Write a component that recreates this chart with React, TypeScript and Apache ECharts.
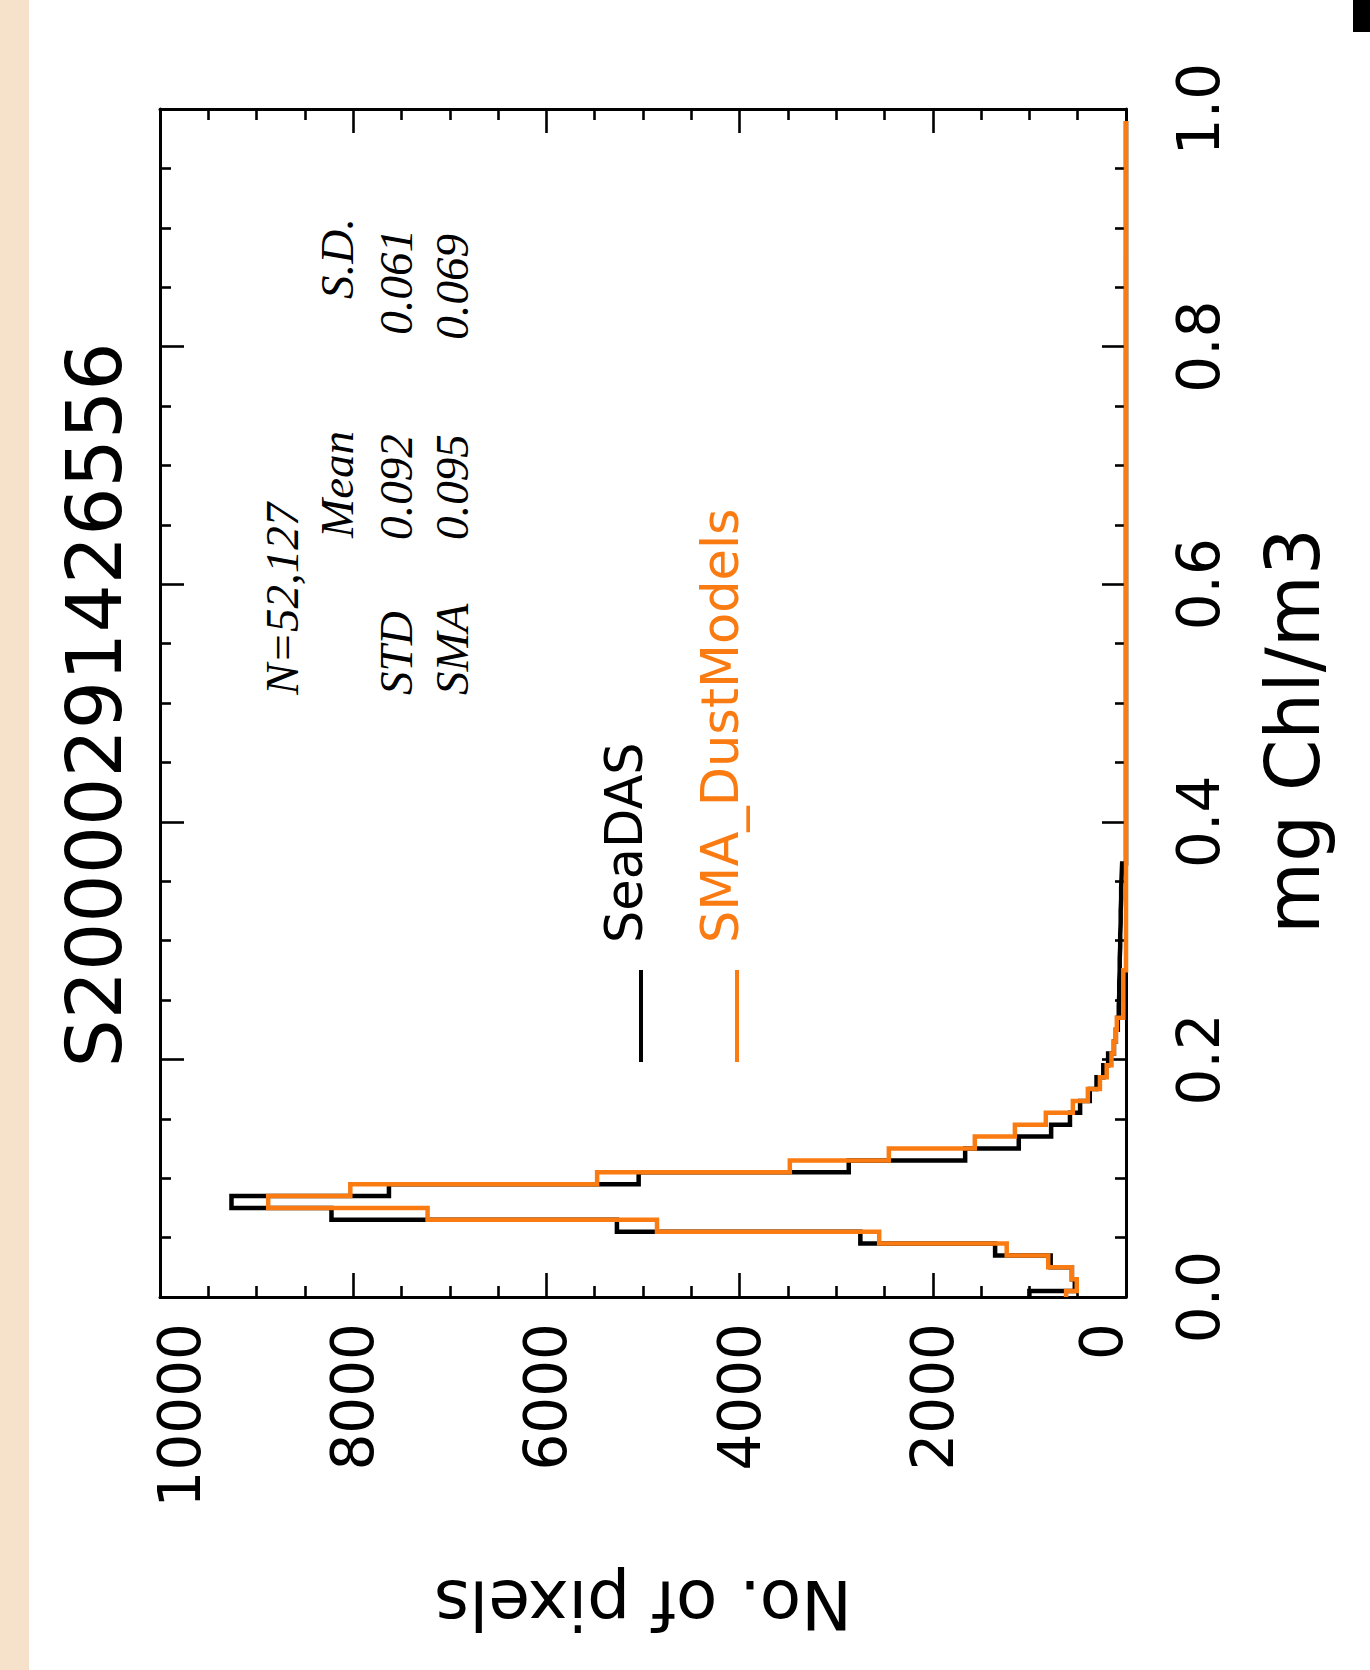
import React, { useEffect, useRef } from "react";
import * as echarts from "echarts";

// ---- data (histogram points at chl = k * BIN_WIDTH, drawn as centred steps) ----
const BIN_WIDTH = 0.01;

const seadasCounts = [
  1000, 530, 560, 780, 1355, 2750, 5270, 8225, 9260, 7630,
  5045, 2870, 1665, 1110, 775, 580, 475, 375, 305, 235,
  185, 125, 105, 85, 75, 70, 70, 65, 65, 60,
  60, 55, 55, 50, 50, 45, 40, 0, 0, 0,
  0, 0, 0, 0, 0, 0, 0, 0, 0, 0,
  0, 0, 0, 0, 0, 0, 0, 0, 0, 0,
  0, 0, 0, 0, 0, 0, 0, 0, 0, 0,
  0, 0, 0, 0, 0, 0, 0, 0, 0, 0,
  0, 0, 0, 0, 0, 0, 0, 0, 0, 0,
  0, 0, 0, 0, 0, 0, 0, 0, 0, 0,
];

const smaCounts = [
  620, 510, 560, 805, 1235, 2555, 4855, 7230, 8880, 8030,
  5475, 3480, 2455, 1565, 1150, 830, 550, 395, 270, 200,
  150, 125, 105, 95, 28, 28, 28, 28, 0, 0,
  0, 0, 0, 0, 0, 0, 0, 0, 0, 0,
  0, 0, 0, 0, 0, 0, 0, 0, 0, 0,
  0, 0, 0, 0, 0, 0, 0, 0, 0, 0,
  0, 0, 0, 0, 0, 0, 0, 0, 0, 0,
  0, 0, 0, 0, 0, 0, 0, 0, 0, 0,
  0, 0, 0, 0, 0, 0, 0, 0, 0, 0,
  0, 0, 0, 0, 0, 0, 0, 0, 0, 0,
];

const seriesNames = ["SeaDAS", "SMA_DustModels"];
const titleText = "S20000291426556";
const xAxisTitle = "No. of pixels";
const yAxisTitle = "mg Chl/m3";
const statsN = "N=52,127";
const statsHeader = ["Mean", "S.D."];
const statsRows = [
  { label: "STD", mean: "0.092", sd: "0.061" },
  { label: "SMA", mean: "0.095", sd: "0.069" },
];
const countTicks = { min: 0, max: 10000, interval: 2000 };
const chlTicks = { min: 0, max: 1, interval: 0.2 };

const ORANGE = "#fa7b12";
const SANS = "DejaVu Sans";
const SERIF = "Liberation Serif";

function outline(counts: number[]): [number, number][] {
  const pts: [number, number][] = [];
  const last = counts.length - 1;
  counts.forEach((c, k) => {
    const center = k * BIN_WIDTH;
    const lo = k === 0 ? center : center - BIN_WIDTH / 2;
    const hi = k === last ? center : center + BIN_WIDTH / 2;
    pts.push([c, lo], [c, hi]);
  });
  return pts;
}

const GRID = { left: 160, top: 109, width: 966, height: 1188 };
const midY = GRID.top + GRID.height / 2;
const midX = GRID.left + GRID.width / 2;

const axisLineStyle = { color: "#000", width: 3 };
const tickStyle = { color: "#000", width: 2.6 };

function countAxis(position: "bottom" | "top", labels: boolean) {
  return {
    type: "value",
    position,
    min: countTicks.min,
    max: countTicks.max,
    interval: countTicks.interval,
    inverse: true,
    z: 1,
    axisLine: { show: true, onZero: false, lineStyle: axisLineStyle },
    axisTick: { show: true, inside: true, length: 24, lineStyle: tickStyle },
    minorTick: { show: true, splitNumber: 4, length: 11, lineStyle: tickStyle },
    splitLine: { show: false },
    axisLabel: labels
      ? {
          show: true,
          rotate: 90,
          margin: 26,
          showMinLabel: true,
          showMaxLabel: true,
          formatter: (v: number) =>
            v === countTicks.min ? `{r|${v}}` : v === countTicks.max ? `{l|${v}}` : `{n|${v}}`,
          rich: {
            n: { fontSize: 58, fontFamily: SANS, color: "#000" },
            l: { fontSize: 58, fontFamily: SANS, color: "#000", padding: [40, 0, 0, 0] },
            r: { fontSize: 58, fontFamily: SANS, color: "#000", padding: [0, 0, 48, 0] },
          },
        }
      : { show: false },
  };
}

function chlAxis(position: "left" | "right", labels: boolean) {
  return {
    type: "value",
    position,
    min: chlTicks.min,
    max: chlTicks.max,
    interval: chlTicks.interval,
    z: 1,
    axisLine: { show: true, onZero: false, lineStyle: axisLineStyle },
    axisTick: { show: true, inside: true, length: 24, lineStyle: tickStyle },
    minorTick: { show: true, splitNumber: 4, length: 11, lineStyle: tickStyle },
    splitLine: { show: false },
    axisLabel: labels
      ? {
          show: true,
          rotate: 90,
          margin: 44,
          showMinLabel: true,
          showMaxLabel: true,
          fontSize: 58,
          fontFamily: SANS,
          color: "#000",
          formatter: (v: number) => v.toFixed(1),
        }
      : { show: false },
  };
}

function vText(text: string, x: number, y: number, align: string, fontSize: number, fill = "#000", serif = false) {
  return {
    type: "text",
    x,
    y,
    rotation: Math.PI / 2,
    z: 50,
    style: {
      text,
      fill,
      fontSize,
      fontFamily: serif ? SERIF : SANS,
      fontStyle: serif ? "italic" : "normal",
      align,
      verticalAlign: "middle",
    },
  };
}

export default function App() {
  const ref = useRef<HTMLDivElement>(null);

  useEffect(() => {
    if (!ref.current) return;
    const chart = echarts.init(ref.current, undefined, { renderer: "svg" });

    const statsCols = [396, 452];
    const sdEnds = [229, 234];
    const elements: any[] = [
      { type: "rect", z: 0, shape: { x: 0, y: 0, width: 29, height: 1670 }, style: { fill: "#f6e2ca" } },
      { type: "rect", z: 0, shape: { x: 1353, y: 0, width: 17, height: 32 }, style: { fill: "#000" } },
      vText(titleText, 94, midY + 2, "center", 76),
      vText(yAxisTitle, 1293, 731, "center", 74),
      {
        type: "text",
        x: midX,
        y: 1604,
        rotation: Math.PI,
        z: 50,
        style: { text: xAxisTitle, fill: "#000", fontSize: 68, fontFamily: SANS, align: "center", verticalAlign: "middle" },
      },
      // stats block
      vText(statsN, 282, 695, "left", 47, "#000", true),
      vText(statsHeader[0], 337, 538, "left", 47, "#000", true),
      vText(statsHeader[1], 337, 218, "right", 47, "#000", true),
      // legend
      { type: "line", z: 50, shape: { x1: 641, y1: 970, x2: 641, y2: 1062 }, style: { stroke: "#000", lineWidth: 4 } },
      vText(seriesNames[0], 624, 943, "left", 51),
      { type: "line", z: 50, shape: { x1: 737, y1: 970, x2: 737, y2: 1062 }, style: { stroke: ORANGE, lineWidth: 4 } },
      vText(seriesNames[1], 720, 943, "left", 51, ORANGE),
    ];
    statsRows.forEach((row, i) => {
      const x = statsCols[i];
      elements.push(vText(row.label, x, 695, "left", 47, "#000", true));
      elements.push(vText(row.mean, x, 540, "left", 47, "#000", true));
      elements.push(vText(row.sd, x, sdEnds[i], "right", 47, "#000", true));
    });

    chart.setOption({
      animation: false,
      backgroundColor: "#ffffff",
      grid: { ...GRID, containLabel: false },
      xAxis: [countAxis("bottom", true), countAxis("top", false)],
      yAxis: [chlAxis("right", true), chlAxis("left", false)],
      series: [
        {
          type: "line",
          name: seriesNames[0],
          xAxisIndex: 0,
          yAxisIndex: 0,
          data: outline(seadasCounts),
          symbol: "none",
          showSymbol: false,
          z: 3,
          lineStyle: { color: "#000", width: 4.5, join: "miter" },
          itemStyle: { color: "#000" },
        },
        {
          type: "line",
          name: seriesNames[1],
          xAxisIndex: 0,
          yAxisIndex: 0,
          data: outline(smaCounts),
          symbol: "none",
          showSymbol: false,
          z: 4,
          lineStyle: { color: ORANGE, width: 4.5, join: "miter" },
          itemStyle: { color: ORANGE },
        },
      ],
      graphic: { elements },
    });

    return () => chart.dispose();
  }, []);

  return (
    <div
      ref={ref}
      style={{ position: "absolute", left: 0, top: 0, width: 1370, height: 1670, background: "#fff" }}
    />
  );
}
